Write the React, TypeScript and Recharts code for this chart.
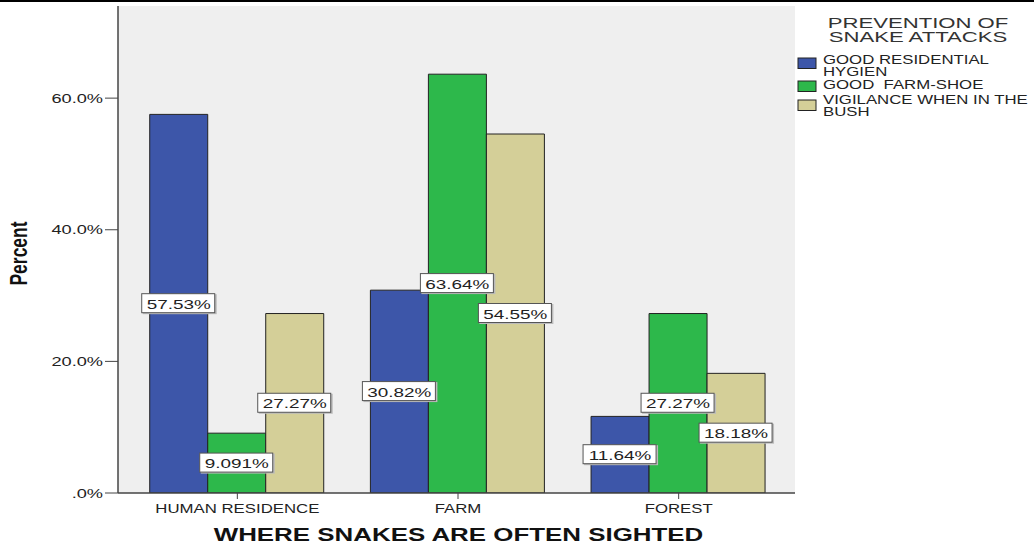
import React from "react";
import {
  BarChart,
  Bar,
  XAxis,
  YAxis,
  CartesianGrid,
  Legend,
  LabelList,
} from "recharts";

// Snake sighting locations vs. preferred prevention measure (percent of respondents)
const categories = ["HUMAN RESIDENCE", "FARM", "FOREST"];
const residentialHygiene = [57.53, 30.82, 11.64];
const farmShoe = [9.091, 63.64, 27.27];
const bushVigilance = [27.27, 54.55, 18.18];

const seriesKeys = ["hygiene", "shoe", "bush"];
const seriesLines = [
  ["GOOD RESIDENTIAL", "HYGIEN"],
  ["GOOD  FARM-SHOE"],
  ["VIGILANCE WHEN IN THE", "BUSH"],
];
const seriesColors = ["#3d56a9", "#2db84b", "#d4cf98"];
const legendTitle = ["PREVENTION OF", "SNAKE ATTACKS"];
const yTicks = [0, 20, 40, 60];

const data = categories.map((place, i) => ({
  place,
  hygiene: residentialHygiene[i],
  shoe: farmShoe[i],
  bush: bushVigilance[i],
}));

const W = 1034;
const H = 546;
const MARGIN = { top: 6, right: 239, bottom: 0, left: 0 };
const FONT = "'Liberation Sans', Arial, sans-serif";
const STRETCH = 1.4; // SPSS export is stretched horizontally
const INK = "#222";
const FRAME = "#444";

type TextProps = {
  x: number;
  y: number;
  size: number;
  bold?: boolean;
  anchor?: "start" | "middle" | "end";
  rotate?: boolean;
  fill?: string;
  sx?: number;
  children: React.ReactNode;
};

function Stretched({ x, y, size, bold, anchor = "middle", rotate, fill = INK, sx = STRETCH, children }: TextProps) {
  return (
    <text
      transform={`translate(${x},${y}) scale(${sx},1)${rotate ? " rotate(-90)" : ""}`}
      fontSize={size}
      fontWeight={bold ? "bold" : "normal"}
      fontFamily={FONT}
      textAnchor={anchor}
      fill={fill}
      style={{ whiteSpace: "pre" }}
    >
      {children}
    </text>
  );
}

const pct = (v: number) => (v === 0 ? ".0%" : `${v.toFixed(1)}%`);

function XTick({ x, y, payload }: any) {
  return <Stretched x={x} y={y + 11.5} size={12}>{payload.value}</Stretched>;
}

function YTick({ x, y, payload }: any) {
  return (
    <Stretched x={x} y={y + 4.5} size={13} anchor="end">
      {pct(payload.value)}
    </Stretched>
  );
}

function XTitle({ viewBox }: any) {
  const cx = viewBox.x + viewBox.width / 2 + 2;
  return (
    <Stretched x={cx} y={viewBox.y + 48} size={18.5} bold fill="#111">
      WHERE SNAKES ARE OFTEN SIGHTED
    </Stretched>
  );
}

function YTitle({ viewBox }: any) {
  const cy = viewBox.y + viewBox.height / 2 + 4;
  // baseline sits on the right side of the rotated word
  return (
    <Stretched x={viewBox.x + 27} y={cy} size={17.5} bold rotate fill="#111">
      Percent
    </Stretched>
  );
}

// white value box drawn at the middle of each bar
function ValueBox({ x, y, width, height, value }: any) {
  const cx = Number(x) + Number(width) / 2;
  const cy = Number(y) + Number(height) / 2;
  return (
    <g>
      <rect x={cx - 36} y={cy - 9.5} width={74} height={20} fill="#bbb" />
      <rect x={cx - 37} y={cy - 10} width={73} height={19} fill="#fff" stroke="#555" strokeWidth={1} />
      <Stretched x={cx} y={cy + 5} size={13.5}>{`${Number(value).toPrecision(4)}%`}</Stretched>
    </g>
  );
}

function LegendBox({ payload }: any) {
  const items = payload || [];
  const rows = [56, 81, 96];
  const swatchY = [50, 73, 92];
  return (
    <svg width={238} height={120} style={{ overflow: "visible" }}>
      {legendTitle.map((t, i) => (
        <Stretched key={t} x={122} y={20 + i * 14} size={14} sx={1.58} fill="#333">
          {t}
        </Stretched>
      ))}
      {items.map((entry: any, i: number) => (
        <g key={`item-${i}`}>
          <rect x={2} y={swatchY[i]} width={18} height={10.5} fill={seriesColors[i]} stroke={INK} strokeWidth={1} />
          {seriesLines[i].map((line, j) => (
            <Stretched key={line} x={27} y={rows[i] + j * 12} size={12} anchor="start">
              {line}
            </Stretched>
          ))}
        </g>
      ))}
    </svg>
  );
}

function SightingsChart({ labelsOnly }: { labelsOnly?: boolean }) {
  return (
    <BarChart
      width={W}
      height={H}
      data={data}
      margin={MARGIN}
      barCategoryGap="10.3%"
      barGap={0}
    >
      {!labelsOnly && (
        <CartesianGrid fill="#efefef" horizontal={false} vertical={false} />
      )}
      <XAxis
        dataKey="place"
        height={53}
        padding={{ left: 9, right: 6 }}
        tickSize={6}
        tickMargin={2}
        tick={labelsOnly ? false : <XTick />}
        tickLine={labelsOnly ? false : { stroke: FRAME }}
        axisLine={labelsOnly ? false : { stroke: FRAME, strokeWidth: 1.5 }}
        interval={0}
        label={labelsOnly ? undefined : { content: <XTitle /> }}
      />
      {!labelsOnly && (
        <XAxis
          xAxisId="top"
          orientation="top"
          dataKey="place"
          height={0}
          tick={false}
          tickLine={false}
          axisLine={{ stroke: FRAME, strokeWidth: 1.5 }}
        />
      )}
      <YAxis
        width={118}
        domain={[0, 74]}
        ticks={yTicks}
        allowDataOverflow
        tickSize={13}
        tickMargin={2}
        tick={labelsOnly ? false : <YTick />}
        tickLine={labelsOnly ? false : { stroke: FRAME }}
        axisLine={labelsOnly ? false : { stroke: FRAME, strokeWidth: 1.5 }}
        label={labelsOnly ? undefined : { content: <YTitle /> }}
      />
      {!labelsOnly && (
        <YAxis
          yAxisId="right"
          orientation="right"
          width={0}
          tick={false}
          tickLine={false}
          axisLine={{ stroke: "#666", strokeWidth: 1.5 }}
        />
      )}
      {!labelsOnly && (
        <Legend
          layout="horizontal"
          verticalAlign="middle"
          align="center"
          wrapperStyle={{ left: 796, top: 8, width: 238, height: 120 }}
          content={<LegendBox />}
        />
      )}
      {seriesKeys.map((key, i) => (
        <Bar
          key={key}
          dataKey={key}
          name={seriesLines[i].join(" ")}
          fill={labelsOnly ? "transparent" : seriesColors[i]}
          stroke={labelsOnly ? "none" : INK}
          strokeWidth={1}
          isAnimationActive={false}
        >
          {labelsOnly && <LabelList dataKey={key} content={<ValueBox />} />}
        </Bar>
      ))}
    </BarChart>
  );
}

export default function App() {
  return (
    <div style={{ position: "absolute", left: 0, top: 0, width: W, height: H, background: "#fff" }}>
      <div style={{ position: "absolute", left: 0, top: 0, width: W, height: 2, background: "#000" }} />
      <div style={{ position: "absolute", left: 0, top: 0 }}>
        <SightingsChart />
      </div>
      <div style={{ position: "absolute", left: 0, top: 0, pointerEvents: "none" }}>
        <SightingsChart labelsOnly />
      </div>
    </div>
  );
}
